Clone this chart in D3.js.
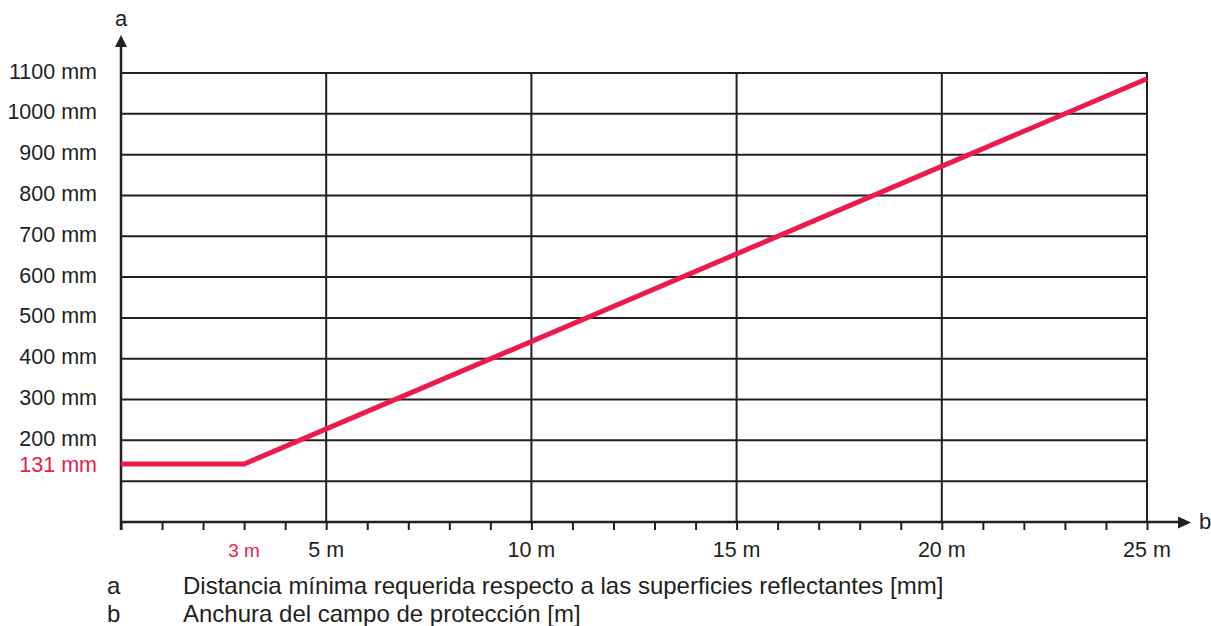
<!DOCTYPE html>
<meta charset="utf-8">
<head>
  <script src="https://cdn.jsdelivr.net/npm/d3@7"></script>
  <style>
    body { margin: 0; background: #fff; }
    text { font-family: Arial, "Liberation Sans", sans-serif; fill: #231f20; }
    .red { fill: #ec1b4b; }
  </style>
  <title>Distancia mínima</title>
</head>
<body>
  <div id="chart"></div>
  <script>
    // data
    const widthM = [0, 3, 25];               // b, field width [m]
    const minDistMm = [142, 142, 1086];      // a, as drawn [mm]
    const gridMm = [100, 200, 300, 400, 500, 600, 700, 800, 900, 1000, 1100];
    const yTickMm = [200, 300, 400, 500, 600, 700, 800, 900, 1000, 1100];
    const yTickLabels = yTickMm.map(d => d + " mm");
    const majorM = [5, 10, 15, 20, 25];
    const majorLabels = majorM.map(d => d + " m");
    const minorM = d3.range(0, 26);
    const markMm = 142, markLabel = "131 mm";   // flat level
    const markM = 3, markMLabel = "3 m";
    const legendKeys = ["a", "b"];
    const legendTexts = ["Distancia mínima requerida respecto a las superficies reflectantes [mm]",
                         "Anchura del campo de protección [m]"];

    const W = 1211, H = 626;
    const dark = "#231f20", red = "#ec1b4b";

    var svg = d3.select("#chart").append("svg")
        .attr("width", W).attr("height", H);

    var x = d3.scaleLinear().domain([0, 25]).range([121, 1147]);
    var y = d3.scaleLinear().domain([0, 1100]).range([522, 73]);

    // horizontal grid
    svg.append("g").selectAll("line").data(gridMm).enter().append("line")
        .attr("x1", x(0)).attr("x2", x(25))
        .attr("y1", d => y(d)).attr("y2", d => y(d))
        .attr("stroke", dark).attr("stroke-width", 2);

    // vertical grid
    svg.append("g").selectAll("line").data(majorM).enter().append("line")
        .attr("x1", d => x(d)).attr("x2", d => x(d))
        .attr("y1", y(1100) - 1).attr("y2", y(0))
        .attr("stroke", dark).attr("stroke-width", 2);

    // minor ticks below x axis
    var tickAxis = d3.axisBottom(x).tickValues(minorM).tickSize(8).tickFormat("");
    var tg = svg.append("g").attr("transform", "translate(0," + y(0) + ")").call(tickAxis);
    tg.select(".domain").remove();
    tg.selectAll("line").attr("stroke", dark).attr("stroke-width", 2);

    // axes with arrows
    svg.append("line").attr("x1", x(0)).attr("x2", 1181)
        .attr("y1", y(0)).attr("y2", y(0))
        .attr("stroke", dark).attr("stroke-width", 2.5);
    svg.append("path").attr("d", "M1178,516.5L1191,522.5L1178,528.5Z").attr("fill", dark);
    svg.append("line").attr("x1", x(0)).attr("x2", x(0))
        .attr("y1", y(0) + 8).attr("y2", 46)
        .attr("stroke", dark).attr("stroke-width", 2.5);
    svg.append("path").attr("d", "M115,47L121,35L127,47Z").attr("fill", dark);
    svg.append("text").attr("x", 121).attr("y", 26).attr("text-anchor", "middle")
        .style("font-size", "22px").text("a");
    svg.append("text").attr("x", 1205).attr("y", 529).attr("text-anchor", "middle")
        .style("font-size", "22px").text("b");

    // y labels
    svg.append("g").selectAll("text").data(yTickMm).enter().append("text")
        .attr("x", 97).attr("y", d => y(d) - 2).attr("dy", "0.35em")
        .attr("text-anchor", "end").style("font-size", "21.5px")
        .text((d, i) => yTickLabels[i]);
    svg.append("text").attr("class", "red")
        .attr("x", 97).attr("y", y(markMm)).attr("dy", "0.35em")
        .attr("text-anchor", "end").style("font-size", "21.5px")
        .text(markLabel);

    // x labels
    svg.append("g").selectAll("text").data(majorM).enter().append("text")
        .attr("x", d => x(d)).attr("y", 557)
        .attr("text-anchor", "middle").style("font-size", "21.5px")
        .text((d, i) => majorLabels[i]);
    svg.append("text").attr("class", "red")
        .attr("x", x(markM)).attr("y", 557)
        .attr("text-anchor", "middle").style("font-size", "19px")
        .text(markMLabel);

    // the curve
    var line = d3.line().x(d => x(d[0])).y(d => y(d[1]));
    svg.append("path").datum(widthM.map((d, i) => [d, minDistMm[i]]))
        .attr("d", line).attr("fill", "none")
        .attr("stroke", red).attr("stroke-width", 5);

    // legend
    var lg = svg.append("g").selectAll("g").data(legendKeys).enter().append("g");
    lg.append("text").attr("x", 107).attr("y", (d, i) => 594 + i * 28)
        .style("font-size", "24px").text(d => d);
    lg.append("text").attr("x", 183).attr("y", (d, i) => 594 + i * 28)
        .style("font-size", "24px").text((d, i) => legendTexts[i]);
  </script>
</body>
</html>
